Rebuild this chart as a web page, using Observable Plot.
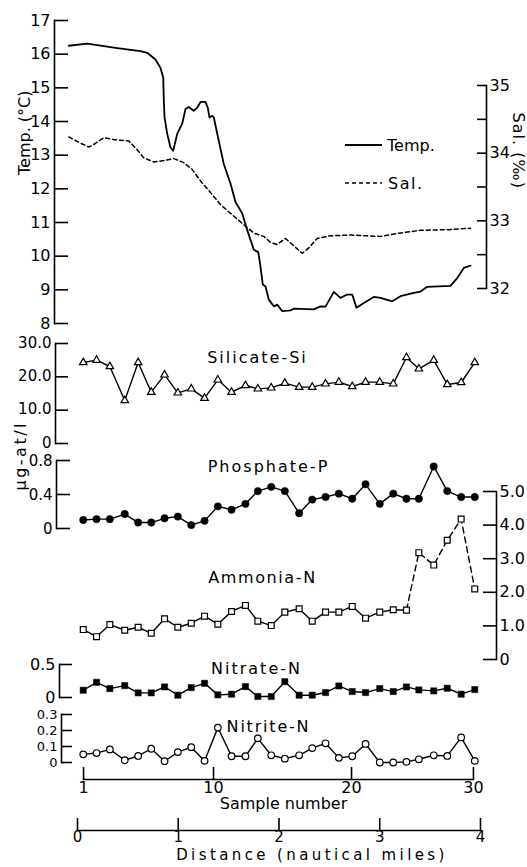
<!DOCTYPE html>
<html>
<head>
<meta charset="utf-8">
<script src="https://cdn.jsdelivr.net/npm/d3@7"></script>
<script src="https://cdn.jsdelivr.net/npm/@observablehq/plot@0.6"></script>
<style>
html, body { margin: 0; padding: 0; background: #fff; }
#chart { position: relative; width: 527px; height: 867px; overflow: hidden; background: #fff; }
#chart svg { position: absolute; left: 0; top: 0; }
</style>
</head>
<body>
<div id="chart"></div>
<script>
// ---------------- data ----------------
const sampleNumber = [1,2,3,4,5,6,7,8,9,10,11,12,13,14,15,16,17,18,19,20,21,22,23,24,25,26,27,28,29,30];
const sampleDistance = [0.057,0.189,0.321,0.469,0.602,0.732,0.864,0.996,1.129,1.261,1.393,1.529,1.667,1.790,1.923,2.058,2.200,2.330,2.462,2.594,2.727,2.859,3.000,3.134,3.265,3.388,3.536,3.670,3.808,3.943];
const silicate  = [24.3,25.0,23.1,12.9,24.3,15.4,20.6,15.2,16.4,13.6,19.1,15.4,17.4,16.4,16.7,18.1,16.9,16.9,17.9,18.4,17.1,18.4,18.4,17.9,25.8,22.4,25.0,17.7,18.3,24.3];
const phosphate = [0.10,0.11,0.11,0.17,0.07,0.07,0.12,0.14,0.04,0.09,0.26,0.22,0.29,0.44,0.49,0.44,0.18,0.34,0.37,0.41,0.35,0.52,0.29,0.41,0.35,0.35,0.73,0.44,0.37,0.37];
const ammonia   = [0.89,0.68,1.04,0.87,0.96,0.78,1.21,0.96,1.08,1.29,1.05,1.43,1.61,1.14,1.01,1.41,1.51,1.14,1.41,1.41,1.58,1.23,1.41,1.48,1.47,3.18,2.81,3.55,4.18,2.10];
const nitrate   = [0.11,0.23,0.135,0.18,0.07,0.07,0.16,0.035,0.15,0.215,0.04,0.05,0.165,0.015,0.015,0.24,0.035,0.035,0.075,0.175,0.09,0.075,0.135,0.09,0.16,0.115,0.10,0.14,0.05,0.12];
const nitrite   = [0.051,0.059,0.082,0.014,0.041,0.086,0.008,0.065,0.096,0.010,0.218,0.039,0.039,0.151,0.045,0.024,0.045,0.090,0.120,0.029,0.039,0.116,0.0,0.0,0.004,0.020,0.045,0.041,0.157,0.010];

const tempDistance = [-0.086,0.096,0.394,0.625,0.692,0.774,0.824,0.851,0.857,0.864,0.890,0.923,0.950,0.990,1.039,1.072,1.105,1.154,1.188,1.221,1.270,1.293,1.310,1.337,1.353,1.402,1.452,1.519,1.568,1.635,1.684,1.750,1.794,1.816,1.839,1.866,1.899,1.948,1.982,2.032,2.114,2.147,2.345,2.412,2.462,2.544,2.610,2.677,2.727,2.769,2.842,2.941,3.007,3.124,3.206,3.338,3.404,3.471,3.702,3.769,3.834,3.901];
const temperature  = [16.25,16.31,16.18,16.09,16.04,15.84,15.59,15.30,14.61,14.12,13.64,13.23,13.13,13.64,13.93,14.37,14.43,14.32,14.41,14.58,14.58,14.41,14.12,14.17,14.12,13.43,12.74,12.15,11.61,11.27,10.78,10.19,10.12,9.70,9.16,9.10,8.71,8.51,8.56,8.37,8.39,8.44,8.42,8.51,8.50,8.94,8.76,8.86,8.86,8.47,8.61,8.79,8.76,8.66,8.81,8.91,8.95,9.09,9.12,9.35,9.65,9.72];

const salDistance = [-0.086,0.013,0.112,0.162,0.261,0.360,0.509,0.593,0.658,0.757,0.857,0.956,1.055,1.138,1.221,1.320,1.419,1.551,1.684,1.750,1.849,1.916,1.982,2.064,2.147,2.230,2.296,2.379,2.511,2.710,3.007,3.206,3.404,3.670,3.901];
const salinity    = [34.24,34.16,34.09,34.13,34.23,34.20,34.18,34.05,33.93,33.87,33.89,33.92,33.86,33.76,33.59,33.42,33.24,33.07,32.90,32.82,32.77,32.68,32.65,32.74,32.63,32.52,32.60,32.74,32.78,32.79,32.77,32.82,32.86,32.87,32.89];

const tempTicks = [8,9,10,11,12,13,14,15,16,17];
const salTicks = [32,32.5,33,33.5,34,34.5,35];
const salLabels = [32,33,34,35];
const silicateTicks = [0,10,20,30];
const phosphateTicks = [0,0.4,0.8];
const ammoniaTicks = [0,1,2,3,4,5];
const nitrateTicks = [0,0.5];
const nitriteTicks = [0,0.1,0.2,0.3];
const distanceTicks = [0,1,2,3,4];
const sampleTickLabels = [1,10,20,30];
const sampleTickDistance = [0.06,1.35,2.72,3.93];

// ---------------- layout ----------------
const W = 527, H = 867;
const FONT = "'DejaVu Sans', 'Liberation Sans', sans-serif";
const AX = 1.6;
const chart = document.getElementById("chart");

const rows = sampleNumber.map((n, i) => ({
  n, d: sampleDistance[i], si: silicate[i], p: phosphate[i], a: ammonia[i], no3: nitrate[i], no2: nitrite[i]
}));
const tempRows = tempDistance.map((d, i) => ({d, t: temperature[i]}));
const salRows = salDistance.map((d, i) => ({d, s: salinity[i]}));

const spacing = {
  "Silicate-Si": 2, "Phosphate-P": 2, "Ammonia-N": 1.6, "Nitrate-N": 2, "Nitrite-N": 1.8,
  "Distance (nautical miles)": 3.4, "µg-at/l": 2.5, "Sal. (‰)": 1
};

function panel({left, right, top, bottom, y, marks}) {
  const svg = Plot.plot({
    width: W, height: H,
    marginLeft: left, marginRight: W - right, marginTop: top, marginBottom: H - bottom,
    x: {domain: [0, 4], range: [77, 480], axis: null},
    y: {...y, axis: null},
    style: {background: "transparent", fontFamily: FONT, fontSize: "16px", color: "black", overflow: "visible"},
    marks
  });
  d3.select(svg).selectAll("text").each(function() {
    const s = spacing[this.textContent];
    if (s != null) this.style.letterSpacing = s + "px";
  });
  chart.appendChild(svg);
  return svg;
}

const fmt1 = d => d === 0 ? "0" : d.toFixed(1);

function leftAxis(left, right, ticks, labels, fmt, len, fontSize = 16, dy = 0) {
  return [
    Plot.frame({anchor: "left", stroke: "black", strokeWidth: AX}),
    Plot.tickY(ticks, {y: d => d, insetRight: (right - left) - len, stroke: "black", strokeWidth: AX}),
    Plot.text(labels, {y: d => d, text: fmt, frameAnchor: "left", dx: -4, dy, textAnchor: "end", fontSize})
  ];
}
function rightAxis(left, right, ticks, labels, fmt, len) {
  return [
    Plot.frame({anchor: "right", stroke: "black", strokeWidth: AX}),
    Plot.tickY(ticks, {y: d => d, insetLeft: (right - left) - len, stroke: "black", strokeWidth: AX}),
    Plot.text(labels, {y: d => d, text: fmt, frameAnchor: "right", dx: 3, textAnchor: "start"})
  ];
}
function title(text, left, top, cx, cy) {
  return Plot.text([text], {frameAnchor: "top-left", dx: cx - left, dy: cy - top, textAnchor: "middle"});
}

// Temperature panel (left axis)
const tempSvg = panel({
  left: 54, right: 486, top: 20, bottom: 323,
  y: {domain: [8, 17]},
  marks: [
    ...leftAxis(54, 486, tempTicks, tempTicks, d => String(d), 14),
    Plot.text(["Temp. (°C)"], {frameAnchor: "left", rotate: -90, dx: -30, dy: 3}),
    Plot.line(tempRows, {x: "d", y: "t", stroke: "black", strokeWidth: 1.8})
  ]
});

// Salinity panel (right axis)
panel({
  left: 54, right: 486, top: 85, bottom: 288,
  y: {domain: [32, 35]},
  marks: [
    ...rightAxis(54, 486, salTicks, salLabels, d => String(d), 9),
    Plot.text(["Sal. (‰)"], {frameAnchor: "right", rotate: 90, dx: 32, dy: 2}),
    Plot.line(salRows, {x: "d", y: "s", stroke: "black", strokeWidth: 1.5, strokeDasharray: "4,3"})
  ]
});

// legend
{
  const g = d3.select(tempSvg).append("g").attr("font-family", FONT).attr("font-size", 16).attr("fill", "black");
  g.append("line").attr("x1", 345).attr("x2", 382).attr("y1", 145).attr("y2", 145)
    .attr("stroke", "black").attr("stroke-width", 1.8);
  g.append("text").attr("x", 387).attr("y", 145).attr("dy", "0.35em").attr("text-anchor", "start").text("Temp.");
  g.append("line").attr("x1", 345).attr("x2", 382).attr("y1", 183).attr("y2", 183)
    .attr("stroke", "black").attr("stroke-width", 1.5).attr("stroke-dasharray", "4,3");
  g.append("text").attr("x", 388).attr("y", 183).attr("dy", "0.35em").attr("text-anchor", "start")
    .style("letter-spacing", "1.5px").text("Sal.");
}

// Silicate
panel({
  left: 55, right: 486, top: 343, bottom: 443,
  y: {domain: [0, 30]},
  marks: [
    ...leftAxis(55, 486, silicateTicks, silicateTicks, fmt1, 13, 15, -0.6),
    title("Silicate-Si", 55, 343, 257, 351),
    Plot.line(rows, {x: "d", y: "si", stroke: "black", strokeWidth: 1.4}),
    Plot.dot(rows, {x: "d", y: "si", symbol: "triangle", r: 2.8, fill: "white", stroke: "black", strokeWidth: 1.2})
  ]
});

// Phosphate
panel({
  left: 56, right: 486, top: 460, bottom: 528,
  y: {domain: [0, 0.8]},
  marks: [
    ...leftAxis(56, 486, phosphateTicks, phosphateTicks, fmt1, 14, 15, 0.6),
    title("Phosphate-P", 56, 460, 268, 460),
    Plot.text(["µg-at/l"], {frameAnchor: "left", rotate: -90, dx: -36, dy: -4}),
    Plot.line(rows, {x: "d", y: "p", stroke: "black", strokeWidth: 1.4}),
    Plot.dot(rows, {x: "d", y: "p", r: 3.7, fill: "black", stroke: "black", strokeWidth: 0.5})
  ]
});

// Ammonia (right axis)
panel({
  left: 56, right: 496, top: 491, bottom: 659,
  y: {domain: [0, 5]},
  marks: [
    ...rightAxis(56, 496, ammoniaTicks, ammoniaTicks, fmt1, 13),
    title("Ammonia-N", 56, 491, 262, 571),
    Plot.line(rows.slice(0, 25), {x: "d", y: "a", stroke: "black", strokeWidth: 1.4}),
    Plot.line(rows.slice(24), {x: "d", y: "a", stroke: "black", strokeWidth: 1.4, strokeDasharray: "6,4"}),
    Plot.dot(rows, {x: "d", y: "a", symbol: "square", r: 3.3, fill: "white", stroke: "black", strokeWidth: 1.2})
  ]
});

// Nitrate
panel({
  left: 59, right: 486, top: 664, bottom: 697,
  y: {domain: [0, 0.5]},
  marks: [
    ...leftAxis(59, 486, nitrateTicks, nitrateTicks, fmt1, 13),
    title("Nitrate-N", 59, 664, 256, 662),
    Plot.line(rows, {x: "d", y: "no3", stroke: "black", strokeWidth: 1.4}),
    Plot.dot(rows, {x: "d", y: "no3", symbol: "square", r: 3.5, fill: "black", stroke: "black", strokeWidth: 0.5})
  ]
});

// Nitrite
panel({
  left: 61, right: 486, top: 714, bottom: 762,
  y: {domain: [0, 0.3]},
  marks: [
    ...leftAxis(61, 486, nitriteTicks, nitriteTicks, fmt1, 11, 13),
    title("Nitrite-N", 61, 714, 268, 720),
    Plot.line(rows, {x: "d", y: "no2", stroke: "black", strokeWidth: 1.4}),
    Plot.dot(rows, {x: "d", y: "no2", r: 3.3, fill: "white", stroke: "black", strokeWidth: 1.2})
  ]
});

// Sample number axis
panel({
  left: 83, right: 473, top: 767, bottom: 779,
  y: {domain: [0, 1]},
  marks: [
    Plot.frame({anchor: "bottom", stroke: "black", strokeWidth: AX}),
    Plot.tickX(sampleTickDistance, {x: d => d, stroke: "black", strokeWidth: AX}),
    Plot.text(sampleTickDistance, {x: d => d, text: (d, i) => String(sampleTickLabels[i]), frameAnchor: "bottom", dy: 13}),
    Plot.text(["Sample number"], {frameAnchor: "bottom", dx: 5, dy: 29})
  ]
});

// Distance axis
panel({
  left: 77, right: 480, top: 818, bottom: 830,
  y: {domain: [0, 1]},
  marks: [
    Plot.frame({anchor: "bottom", stroke: "black", strokeWidth: AX}),
    Plot.tickX(distanceTicks, {x: d => d, stroke: "black", strokeWidth: AX}),
    Plot.text(distanceTicks, {x: d => d, text: d => String(d), frameAnchor: "bottom", dy: 11.5, fontSize: 15}),
    Plot.text(["Distance (nautical miles)"], {frameAnchor: "bottom", dx: 33, dy: 29, fontSize: 15})
  ]
});
</script>
</body>
</html>
